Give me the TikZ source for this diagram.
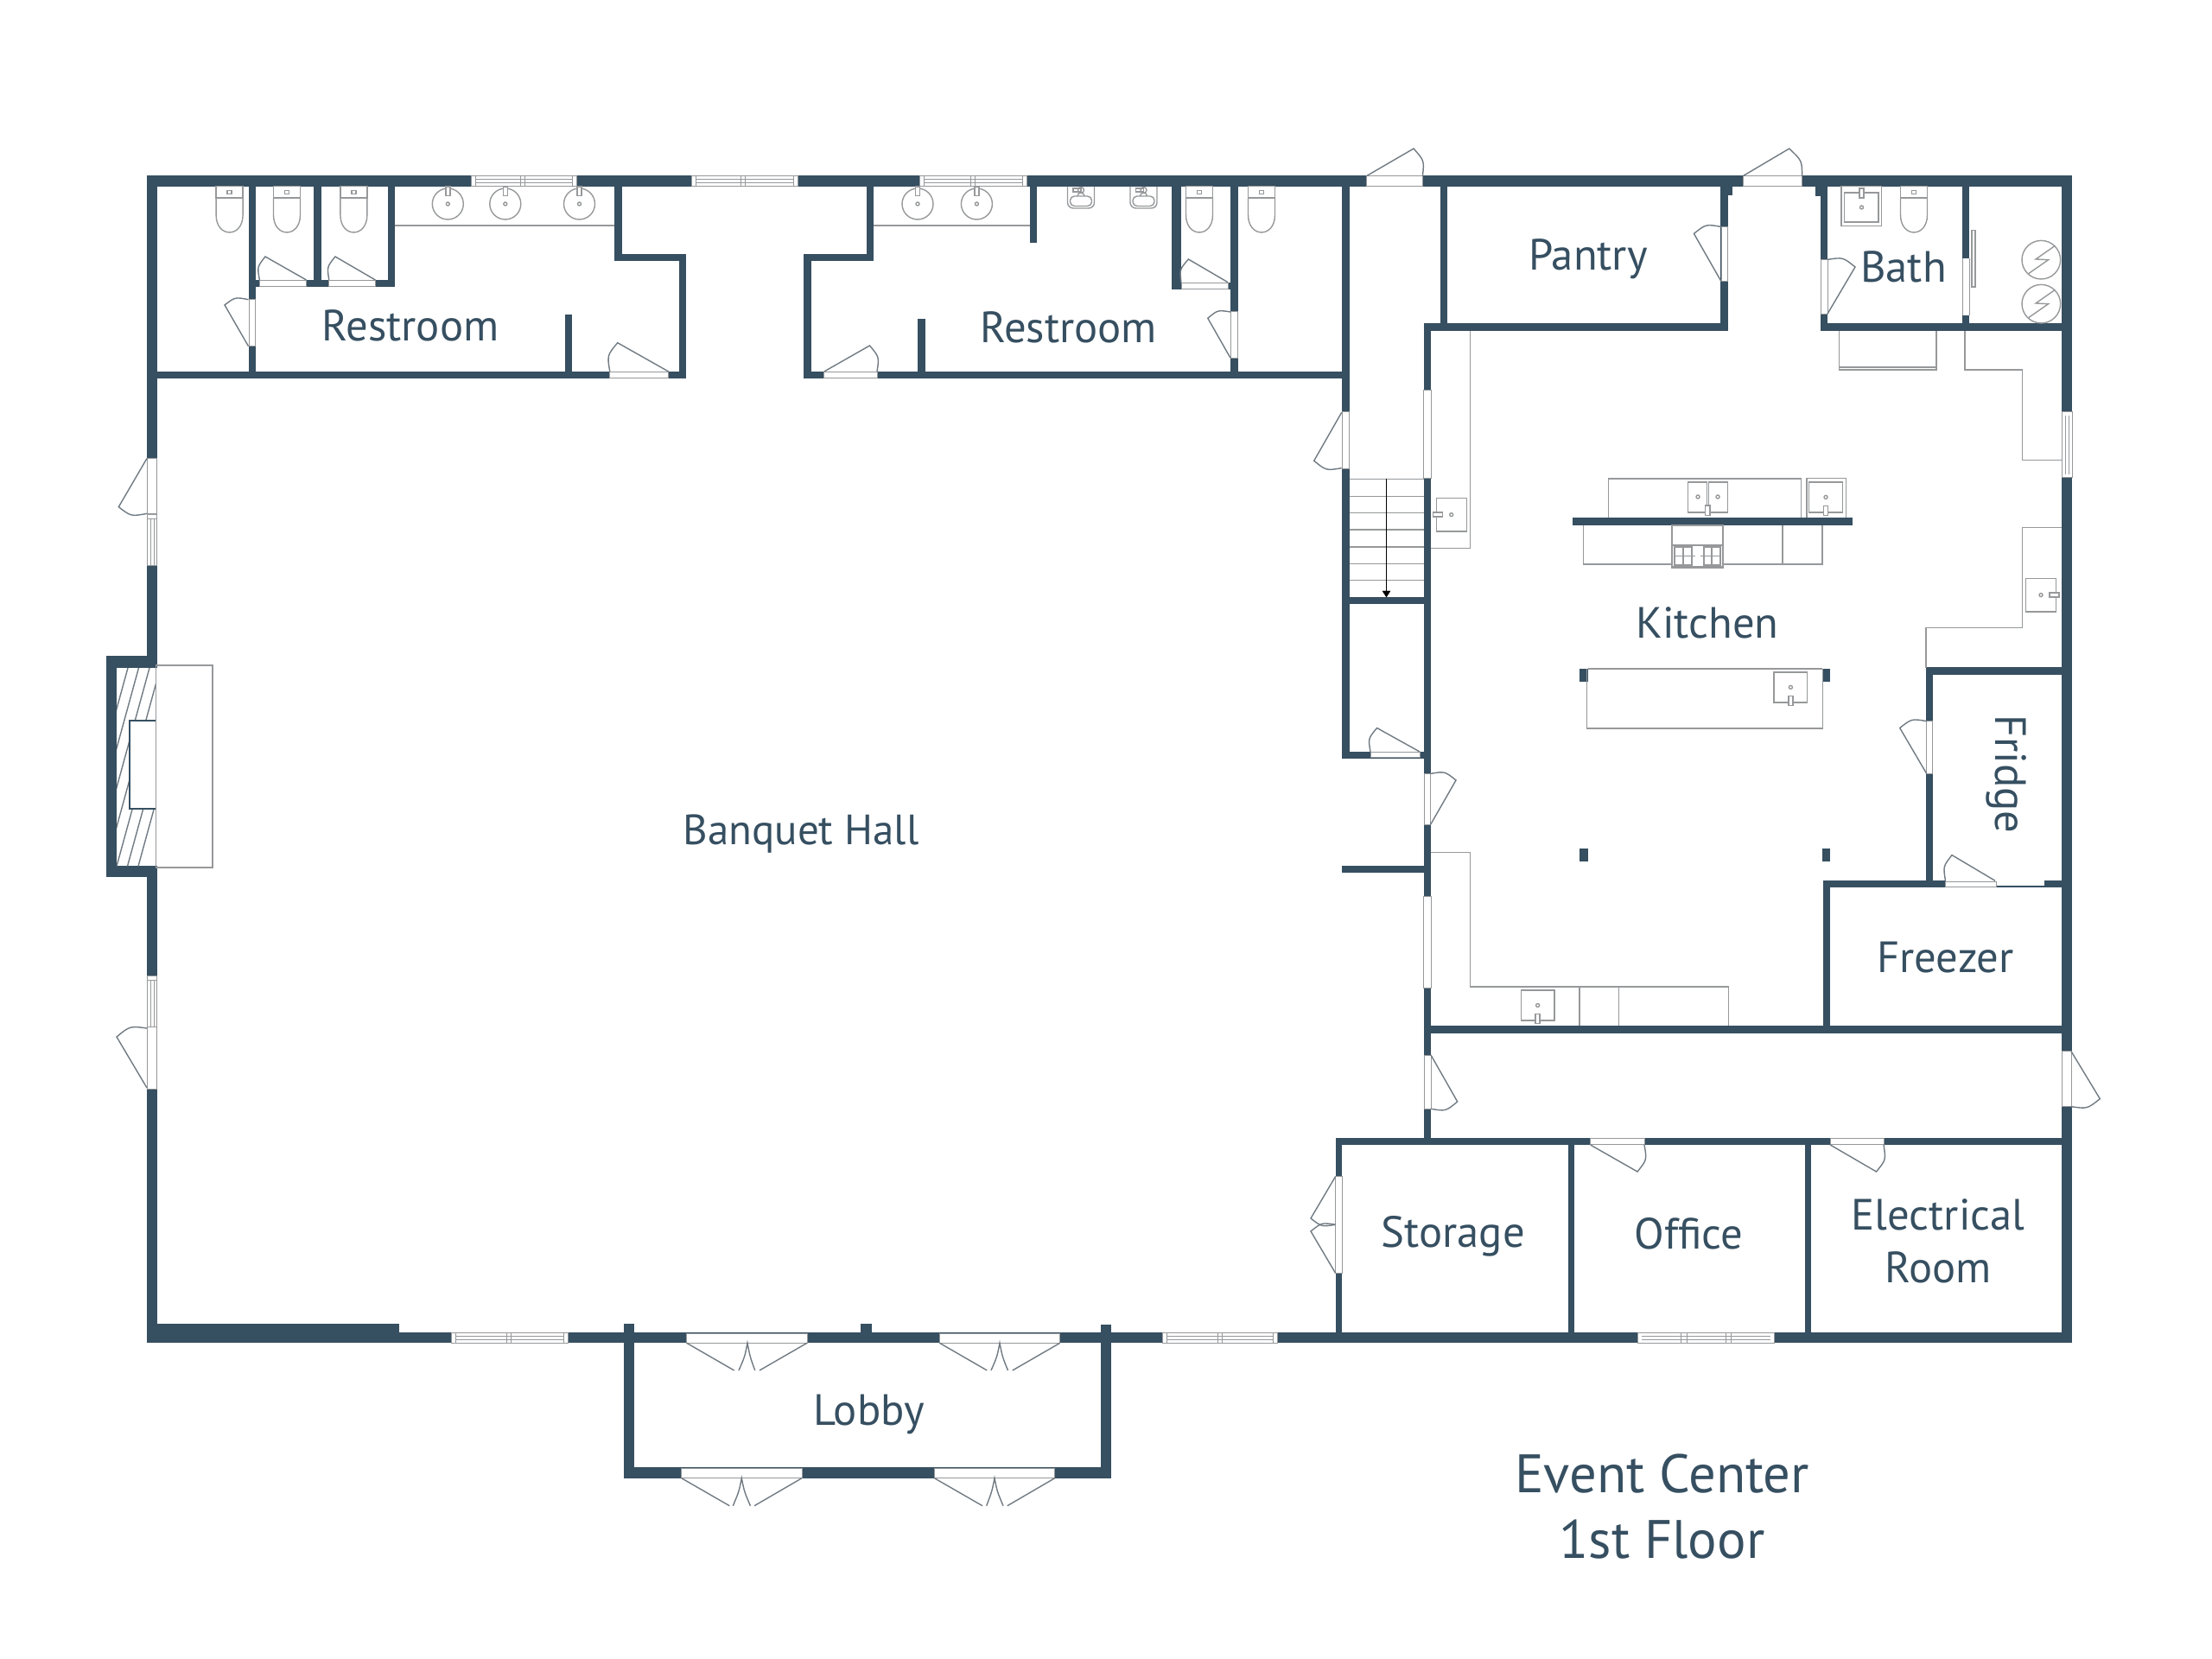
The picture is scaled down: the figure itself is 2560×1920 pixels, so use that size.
\documentclass[tikz,border=0pt]{standalone}
\usepackage{fontspec}
\setmainfont{PT Sans}
\usetikzlibrary{calc}

\definecolor{wallblue}{RGB}{54,79,97}
\definecolor{linegray}{RGB}{150,152,154}
\definecolor{swinggray}{RGB}{112,122,130}

\tikzset{every picture/.style={line width=0.45pt},
  wall/.style={fill=wallblue},
  opening/.style={fill=white,draw=linegray,line width=0.3pt},
  pane/.style={draw=linegray,line width=0.3pt},
  fixture/.style={draw=linegray,line width=0.42pt},
  swing/.style={draw=swinggray,line width=0.42pt},
  roomlabel/.style={text=wallblue,anchor=base,inner sep=0pt,align=center,font=\fontsize{15.2pt}{18pt}\selectfont},
  titlelabel/.style={text=wallblue,anchor=base,inner sep=0pt,font=\fontsize{18.8pt}{22pt}\selectfont},
  toilet/.pic={
    \draw[fixture] (-15.5,0) rectangle (15.5,13.5);
    \draw[fixture] (-2.5,5) rectangle (2.5,9);
    \draw[fixture] (-15.5,13.5) -- (-15.5,33) .. controls (-15.5,60) and (15.5,60) .. (15.5,33) -- (15.5,13.5);
  },
  roundsink/.pic={
    \draw[fixture] (0,0) circle [radius=18];
    \draw[fixture,fill=white] (-2.5,-20) rectangle (2.5,-9.3);
    \draw[fixture] (0,0) circle [radius=2];
  },
  basin/.pic={
    \draw[fixture] (-19.3,-17.5) rectangle (19.3,17.5);
    \draw[fixture] (0,0) circle [radius=2];
    \draw[fixture,fill=white] (-2.5,10) rectangle (2.5,21);
  },
  wallsink/.pic={
    \draw[fixture,rounded corners=2pt] (-15.5,0) -- (-15.5,25) -- (15.5,25) -- (15.5,0);
    \draw[fixture,rounded corners=1.5pt] (-12.5,11) rectangle (12.5,22.5);
    \draw[fixture] (-9,2) rectangle (0,6);
    \draw[fixture] (0,4) circle [radius=3.5];
    \draw[fixture] (-4,11) arc [start angle=180,end angle=360,radius=4];
  },
  heater/.pic={
    \draw[fixture] (0,0) circle [radius=22.3];
    \draw[fixture] (16,-16.3) -- (-6.3,-0.7) -- (8.3,0) -- (-14.7,16);
  }
}

\newcommand{\swingleaf}[3]{\draw[swing] (#1) -- (#2) .. controls ($(#1)!1.12!($(#2)!.5!(#3)$)$) .. (#3);}

\begin{document}
\begin{tikzpicture}[x=0.3pt,y=0.3pt,yscale=-1,xscale=1]
\useasboundingbox (0,0) rectangle (2560,1920);

%Outer Walls
\fill[wall] (170,203.3) rectangle (2398.4,215.7);
\fill[wall] (170,203.3) rectangle (182,773);
\fill[wall] (170,1002.5) rectangle (182,1554.3);
\fill[wall] (2385.8,203.3) rectangle (2398.4,1554.3);
\fill[wall] (170,1531.7) rectangle (461.7,1554.3);
\fill[wall] (461.7,1542.3) rectangle (2398.4,1554.3);
%Fireplace Walls
\fill[wall] (123.3,758.7) rectangle (182,773);
\fill[wall] (123.3,758.7) rectangle (135,1015);
\fill[wall] (123.3,1002.5) rectangle (182,1015);

%West Restroom Walls
\fill[wall] (170,430) rectangle (794,438.3);
\fill[wall] (287.5,203.3) rectangle (296,438);
\fill[wall] (296,324) rectangle (456.7,332.3);
\fill[wall] (363.4,203.3) rectangle (372,332);
\fill[wall] (448.7,203.3) rectangle (456.7,332);
\fill[wall] (711,203.3) rectangle (719.6,302.3);
\fill[wall] (711,294.3) rectangle (794,302.3);
\fill[wall] (786,294.3) rectangle (794,438.3);
\fill[wall] (653.6,364) rectangle (661.6,438);

%East Restroom Walls
\fill[wall] (930.4,430) rectangle (1561.5,438.3);
\fill[wall] (930.4,294.3) rectangle (939,438.3);
\fill[wall] (930.4,294.3) rectangle (1011.2,302.3);
\fill[wall] (1003,203.3) rectangle (1011.2,302.3);
\fill[wall] (1062,369) rectangle (1070.6,438);
\fill[wall] (1191.6,203.3) rectangle (1200,281);
\fill[wall] (1355.7,203.3) rectangle (1366.7,335);
\fill[wall] (1355.7,326.7) rectangle (1432.8,335);
\fill[wall] (1424,203.3) rectangle (1432.8,438);

%Corridor Walls
\fill[wall] (1553,203.3) rectangle (1561.5,878);
\fill[wall] (1553,870) rectangle (1656.2,878);
\fill[wall] (1553,691) rectangle (1656.2,699.3);
\fill[wall] (1553,1002.5) rectangle (1650,1010.4);
\fill[wall] (1647.6,374.3) rectangle (1656.2,1325);

%Pantry Walls
\fill[wall] (1667,203.3) rectangle (1675,383);
\fill[wall] (1647.6,374.3) rectangle (1999.5,383);
\fill[wall] (1991.4,203.3) rectangle (1999.5,383);
\fill[wall] (1991.4,215) rectangle (2005,226);

%Bath Walls
\fill[wall] (2106.8,203.3) rectangle (2115.4,383);
\fill[wall] (2101,215) rectangle (2115.4,227);
\fill[wall] (2106.8,374.3) rectangle (2398.4,383);
\fill[wall] (2271,203.3) rectangle (2279,383);

%Fridge And Freezer Walls
\fill[wall] (2229,772.5) rectangle (2398.4,781);
\fill[wall] (2229,772.5) rectangle (2237,1027);
\fill[wall] (2109.7,1019.3) rectangle (2251.5,1027.5);
\fill[wall] (2310.6,1024.6) rectangle (2366,1027.5);
\fill[wall] (2366,1019.3) rectangle (2398.4,1027.5);
\fill[wall] (2109.7,1019.3) rectangle (2117.7,1196);
\fill[wall] (1647.6,1187) rectangle (2398.4,1195.8);

%Storage Row Walls
\fill[wall] (1545.5,1316.7) rectangle (2398.4,1325);
\fill[wall] (1545.5,1316.7) rectangle (1553.3,1554);
\fill[wall] (1814.5,1325) rectangle (1821.8,1554);
\fill[wall] (2088.5,1325) rectangle (2096.4,1554);

%Lobby Walls
\fill[wall] (721.7,1531.7) rectangle (733.8,1710.7);
\fill[wall] (1273.6,1532.7) rectangle (1285.7,1710.7);
\fill[wall] (721.7,1698.3) rectangle (1285.7,1710.7);
\fill[wall] (996.3,1531.7) rectangle (1009,1543);

%Island Bar And Posts
\fill[wall] (1819.8,599.3) rectangle (2144,607.9);
\fill[wall] (1827.8,774) rectangle (1838,789);
\fill[wall] (2108.5,774) rectangle (2118.3,789);
\fill[wall] (1827.8,981.8) rectangle (1838,996.8);
\fill[wall] (2108.5,981.8) rectangle (2118.3,996.8);

%Windows Along The Long Walls
\foreach \xa/\xm/\xb/\yt in {545/605/667.4/203.3,800.4/860/923/203.3,1064/1126/1188.3/203.3,522/589/657.4/1542.3,1345.3/1412/1478.6/1542.3}{
  \draw[opening] (\xa,\yt) rectangle (\xb,\yt+12.3);
  \draw[pane] (\xa+5,\yt) -- (\xa+5,\yt+12.3);
  \draw[pane] (\xb-5,\yt) -- (\xb-5,\yt+12.3);
  \draw[pane] (\xm-2.5,\yt) -- (\xm-2.5,\yt+12.3);
  \draw[pane] (\xm+2.5,\yt) -- (\xm+2.5,\yt+12.3);
  \draw[pane] (\xa+5,\yt+4) -- (\xb-5,\yt+4);
  \draw[pane] (\xa+5,\yt+8.3) -- (\xb-5,\yt+8.3);
}
%Office Window
\draw[opening] (1895.8,1542.3) rectangle (2053.3,1554.3);
\draw[pane] (1945.5,1542.3) -- (1945.5,1554.3);
\draw[pane] (1952,1542.3) -- (1952,1554.3);
\draw[pane] (1997,1542.3) -- (1997,1554.3);
\draw[pane] (2003,1542.3) -- (2003,1554.3);
\draw[pane] (1900,1546.3) -- (2049,1546.3);
\draw[pane] (1900,1550.3) -- (2049,1550.3);
%Side Windows
\foreach \ya/\yb in {596/654.6,1130/1188.7}{
  \draw[opening] (170,\ya) rectangle (181.7,\yb);
  \draw[pane] (170,\ya+5) -- (181.7,\ya+5);
  \draw[pane] (174,\ya+5) -- (174,\yb);
  \draw[pane] (178,\ya+5) -- (178,\yb);
}
\draw[opening] (2386,477) rectangle (2398.4,553);
\draw[pane] (2390,481) -- (2390,549);
\draw[pane] (2394,481) -- (2394,549);
%Kitchen Wall Windows
\draw[opening] (1647.9,452) rectangle (1656,554);
\draw[opening] (1647.9,1038) rectangle (1656,1143.6);

%Door Restroom Stalls
\draw[opening] (300.4,324.5) rectangle (354.5,331.7);
\swingleaf{354.5,324}{307,297}{300.4,324}
\draw[opening] (380.8,324.5) rectangle (434.4,331.7);
\swingleaf{434.4,324}{388,297}{380.8,324}
%Door West Restroom Side
\draw[opening] (288,346.7) rectangle (295.5,400.7);
\swingleaf{287.5,400.7}{260,353}{287.5,346.7}
%Door West Restroom Entry
\draw[opening] (705.8,431) rectangle (773.7,437.5);
\swingleaf{773.7,430}{714.7,396.7}{705.8,430}
%Door East Restroom Entry
\draw[opening] (953.8,431) rectangle (1015,437.5);
\swingleaf{953.8,430}{1006.5,400}{1015,430}
%Door East Restroom Stall
\draw[opening] (1367,327.5) rectangle (1421,334.3);
\swingleaf{1421,326.7}{1375.4,300}{1367,326.7}
%Door East Restroom Side
\draw[opening] (1424.5,361) rectangle (1432.3,414.3);
\swingleaf{1424,414.3}{1397.8,368.3}{1424,361}
%Door Top Corridor
\draw[opening] (1581.6,203.6) rectangle (1646.4,215.5);
\swingleaf{1581.6,203.6}{1636,172}{1646.4,203.6}
%Door Top Kitchen
\draw[opening] (2017.3,203.6) rectangle (2085.6,215.5);
\swingleaf{2017.3,203.6}{2070.7,172}{2085.6,203.6}
%Door Pantry
\draw[opening] (1992,262.5) rectangle (1999,325.7);
\swingleaf{1992,325.7}{1960.4,270.4}{1992,262.5}
%Door Bath
\draw[opening] (2107.3,300.4) rectangle (2115,363.2);
\swingleaf{2115,363.2}{2147,309}{2115,300.4}
%Bath Pocket Door
\fill[white] (2271,299.3) rectangle (2279,365.4);
\draw[pane] (2271,299.3) -- (2271,365.4);
\draw[pane] (2279,299.3) -- (2279,365.4);
\draw[fixture] (2282,266.8) rectangle (2286,332);
%Door Banquet To Corridor
\draw[opening] (1553.3,476.7) rectangle (1561,542.3);
\swingleaf{1552.7,477.3}{1520.7,533.3}{1552.7,541.7}
%Door Closet
\draw[opening] (1586,871) rectangle (1643,877);
\swingleaf{1643,870}{1593.6,842.5}{1586,870}
%Door Kitchen From Corridor
\draw[opening] (1648,895.4) rectangle (1655.6,954.3);
\swingleaf{1655.6,954.3}{1685,903}{1655.6,895.4}
%Door Fridge West
\draw[opening] (2229.7,834.6) rectangle (2236.5,895.4);
\swingleaf{2229.7,895.4}{2198.7,842.5}{2229.7,834.6}
%Door Freezer
\draw[opening] (2251.5,1020.5) rectangle (2310.6,1027);
\swingleaf{2309,1019.3}{2259,989.6}{2251.5,1019.3}
%Door Back Hall West
\draw[opening] (1648,1221) rectangle (1656,1283.3);
\swingleaf{1656,1221}{1686.7,1275}{1656,1283.3}
%Door Back Hall East
\draw[opening] (2386.7,1216.7) rectangle (2397.5,1280.7);
\swingleaf{2397,1216.7}{2430.3,1271.7}{2397,1280.7}
%Doors Storage
\draw[opening] (1545.8,1361.7) rectangle (1553,1473.3);
\swingleaf{1545.5,1361.7}{1517,1410}{1545.5,1417.3}
\swingleaf{1545.5,1473.3}{1517,1425}{1545.5,1417.3}
%Door Office
\draw[opening] (1840.6,1317.5) rectangle (1903,1324.5);
\swingleaf{1840.6,1325}{1895,1356}{1903,1325}
%Door Electrical Room
\draw[opening] (2118.2,1317.5) rectangle (2180,1324.5);
\swingleaf{2118.2,1325}{2171.5,1356}{2180,1325}
%Door West Outer
\draw[opening] (170.3,530.6) rectangle (181.7,594.4);
\swingleaf{170,530.6}{137.3,586.7}{170,594.4}
\draw[opening] (170.3,1188.8) rectangle (181.7,1260);
\swingleaf{170,1259}{135,1200}{170,1190}
%Doors Lobby Inner
\draw[opening] (794.7,1543) rectangle (934,1554.3);
\draw[swing] (794.7,1554.3) -- (849.6,1586);
\draw[swing] (934,1554.3) -- (879,1586);
\draw[swing] (855,1586) .. controls (862,1570) .. (865,1554.3) .. controls (868,1570) .. (873.7,1586);
\draw[opening] (1087.4,1543) rectangle (1226.7,1554.3);
\draw[swing] (1087.4,1554.3) -- (1142.3,1586);
\draw[swing] (1226.7,1554.3) -- (1171.8,1586);
\draw[swing] (1147,1586) .. controls (1154,1570) .. (1157,1554.3) .. controls (1160,1570) .. (1166.5,1586);
%Doors Lobby Outer
\draw[opening] (788.7,1699.5) rectangle (928,1710.7);
\draw[swing] (788.7,1710.7) -- (844.3,1742.7);
\draw[swing] (928,1710.7) -- (873,1742.7);
\draw[swing] (848.3,1742.7) .. controls (855.3,1726) .. (858.3,1710.7) .. controls (861.3,1726) .. (868.4,1742.7);
\draw[opening] (1081.4,1699.5) rectangle (1220.7,1710.7);
\draw[swing] (1081.4,1710.7) -- (1137,1742.7);
\draw[swing] (1220.7,1710.7) -- (1165.8,1742.7);
\draw[swing] (1141.7,1742.7) .. controls (1148,1726) .. (1151,1710.7) .. controls (1154,1726) .. (1161,1742.7);

%Fireplace Hatching
\begin{scope}
\clip (135,773) rectangle (180.7,1002.5);
\foreach \xh in {0,...,6}{
  \draw[swing] (148+12.5*\xh,773) -- (85+12.5*\xh,1002.5);
}
\end{scope}
\fill[white] (149.7,834) rectangle (180.7,936);
\draw[wallblue,line width=0.55pt] (180.7,834) -- (149.7,834) -- (149.7,936) -- (180.7,936);
\draw[fixture] (180.7,773) -- (180.7,1002.5);
\draw[fixture] (180.7,770) rectangle (246,1004);

%Restroom Fixtures
\foreach \xt in {265.6,332,409.4,1388,1460,2215}{
  \pic[transform shape] at (\xt,215.7) {toilet};
}
\draw[fixture] (456.7,261) -- (711,261);
\draw[fixture] (1011.2,261) -- (1191.6,261);
\foreach \xs in {518.3,584.8,670.5,1062,1130.4}{
  \pic[transform shape] at (\xs,236) {roundsink};
}
\pic[transform shape] at (1251,216) {wallsink};
\pic[transform shape] at (1323.5,216) {wallsink};

%Bath Sink
\draw[fixture] (2131,215.7) rectangle (2177.4,261.8);
\draw[fixture] (2134.4,223) rectangle (2174,257);
\draw[fixture,fill=white] (2152,218) rectangle (2157,229);
\draw[fixture] (2154.5,240) circle [radius=2];
%Water Heaters
\pic[transform shape] at (2362.3,300.7) {heater};
\pic[transform shape] at (2362.3,351.7) {heater};

%Stairs
\foreach \yt in {554.3,574.3,593.6,613.2,632.9,652.5,671.8}{
  \draw[fixture] (1561.5,\yt) -- (1647.6,\yt);
}
\draw[black,line width=0.3pt] (1604.5,554.3) -- (1604.5,685);
\draw[black,fill=black,line width=0.1pt] (1600,684) -- (1609,684) -- (1604.5,691) -- cycle;

%Kitchen Counters
\draw[fixture] (1701.5,383) -- (1701.5,634.6) -- (1656,634.6);
\draw[fixture] (1656,986.4) -- (1701.5,986.4) -- (1701.5,1142) -- (2000.6,1142) -- (2000.6,1187);
\draw[fixture] (1827.8,1142) -- (1827.8,1187);
\draw[fixture] (1873.2,1142) -- (1873.2,1187);
\draw[fixture] (2274,383) -- (2274,428) -- (2340.5,428) -- (2340.5,532.5) -- (2386,532.5);
\draw[fixture] (2386,610.4) -- (2340.5,610.4) -- (2340.5,726.8) -- (2229,726.8) -- (2229,773);
\draw[fixture] (2128.6,383) -- (2128.6,427.9) -- (2241,427.9) -- (2241,383);
\draw[fixture] (2128.6,425) -- (2241,425);
%Kitchen Sinks
\pic[transform shape,rotate=90] at (1679.7,595.7) {basin};
\pic[transform shape,rotate=-90] at (2362,688.6) {basin};
\pic[transform shape] at (1779.6,1163.5) {basin};
\pic[transform shape] at (2072.4,795.4) {basin};
\pic[transform shape] at (2113,575.4) {basin};
\draw[fixture] (2090.8,599.3) -- (2090.8,553.6) -- (2136.7,553.6) -- (2136.7,599.3);

%Cook Line
\draw[fixture] (1861.7,599.3) -- (1861.7,554) -- (2084.4,554) -- (2084.4,599.3);
\draw[fixture] (1953.6,558) rectangle (1975.4,592.9);
\draw[fixture] (1977.7,558) rectangle (1999.5,592.9);
\draw[fixture] (1965,575) circle [radius=2];
\draw[fixture] (1988,575) circle [radius=2];
\draw[fixture,fill=white] (1973.6,585) rectangle (1979,596.4);
\draw[fixture] (1832.4,608) -- (1832.4,653) -- (2109,653) -- (2109,608);
\draw[fixture] (2063,608) -- (2063,653);
\draw[fixture,fill=white] (1935,608) rectangle (1994,657);
\draw[fixture] (1935,631) -- (1994,631);
\draw[fixture] (1938,633) rectangle (1958,654);
\draw[fixture] (1972,633) rectangle (1991,654);
\draw[fixture] (1938,643.5) -- (1962,643.5);
\draw[fixture] (1968,643.5) -- (1991,643.5);
\draw[fixture] (1948,633) -- (1948,654);
\draw[fixture] (1981,633) -- (1981,654);
\draw[fixture] (1935,656) -- (1994,656);
%Kitchen Island
\draw[fixture] (1838,774) -- (2108.5,774);
\draw[fixture] (1836.4,774) -- (1836.4,842.9) -- (2109.7,842.9) -- (2109.7,774);

% Text Node
\node[roomlabel] (restroomwest) at (475,395) {Restroom};
\node[roomlabel] (restroomeast) at (1236.6,396.5) {Restroom};
\node[roomlabel] (pantry) at (1838,313) {Pantry};
\node[roomlabel] (bath) at (2203,327) {Bath};
\node[roomlabel] (kitchen) at (1976,739) {Kitchen};
\node[roomlabel,rotate=-90] (fridge) at (2309.5,896) {Fridge};
\node[roomlabel] (freezer) at (2251.5,1126) {Freezer};
\node[roomlabel,font=\fontsize{14.7pt}{18pt}\selectfont] (banquet) at (927,977.5) {Banquet Hall};
\node[roomlabel] (storage) at (1681.8,1443) {Storage};
\node[roomlabel] (office) at (1954.5,1445) {Office};
\node[roomlabel] (electrical) at (2243,1423) {Electrical};
\node[roomlabel] (electricalroom) at (2243,1484) {Room};
\node[roomlabel] (lobby) at (1005.7,1649) {Lobby};
\node[titlelabel] (eventcenter) at (1923.6,1727.6) {Event Center};
\node[titlelabel] (firstfloor) at (1923.6,1803) {1st Floor};

\end{tikzpicture}
\end{document}
